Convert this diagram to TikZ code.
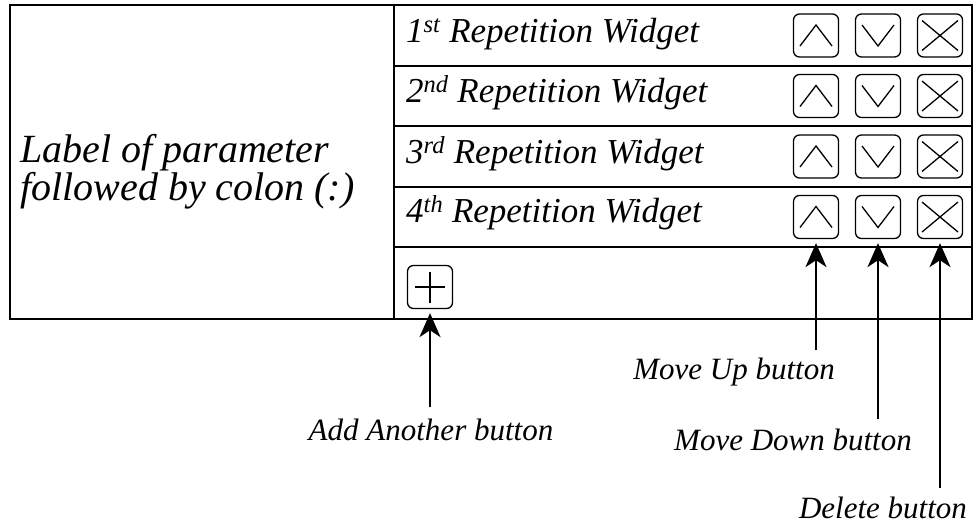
\documentclass[tikz,border=0pt]{standalone}
\usepackage{fontspec}
\setmainfont{Liberation Serif}
\usetikzlibrary{arrows.meta}
\begin{document}
\begin{tikzpicture}[x=1pt,y=-1pt,
  frame/.style={line width=2.5pt},
  btn/.style={draw, line width=1.3pt, rounded corners=6pt, minimum width=45pt, minimum height=43pt, inner sep=0pt},
  icon/.style={line width=1.3pt},
  arr/.style={line width=2.5pt, -{Stealth[length=24pt,width=21pt,inset=7pt]}, shorten >=4pt},
  rowtext/.style={anchor=base west, inner sep=0pt, font=\fontsize{35}{40}\selectfont\itshape},
  captext/.style={inner sep=0pt, font=\fontsize{31}{36}\selectfont\itshape}]
\useasboundingbox (0,0) rectangle (974,525);
% frame
\draw[frame] (10,5) rectangle (972,319);
\draw[frame] (394,5) -- (394,319);
\foreach \yl in {66,126,187,247} \draw[frame] (394,\yl) -- (972,\yl);
% parameter label
\node[anchor=west, align=left, inner sep=0pt, font=\fontsize{40}{35}\selectfont\itshape] (lbl) at (20,171.5) {Label of parameter\\followed by colon (:)};
% rows
\foreach \i/\n/\s/\yb/\yc in {1/1/st/42/35.5, 2/2/nd/102/96, 3/3/rd/163/156.5, 4/4/th/222/217} {
  \node[rowtext] (row\i) at (406,\yb) {\n\textsuperscript{\s} Repetition Widget};
  \node[btn] (up\i) at (816,\yc) {};
  \node[btn] (dn\i) at (878,\yc) {};
  \node[btn] (del\i) at (940,\yc) {};
  \draw[icon] (up\i.center) ++(-16,10.5) -- ++(16,-21) -- ++(16,21);
  \draw[icon] (dn\i.center) ++(-16,-10.5) -- ++(16,21) -- ++(16,-21);
  \draw[icon] (del\i.center) ++(-18,-15) -- ++(36,30) ++(0,-30) -- ++(-36,30);
}
% add button
\node[btn] (add) at (430,287) {};
\draw[icon] (add.center) ++(-15,0) -- ++(30,0) ++(-15,-15.5) -- ++(0,31);
% captions
\node[captext] (capadd) at (431,430) {Add Another button};
\node[captext] (capup) at (734,372) {Move Up button};
\node[captext] (capdn) at (793,440) {Move Down button};
\node[captext] (capdel) at (883,508) {Delete button};
% arrow starts
\coordinate (sAdd) at (428,407);
\coordinate (sUp) at (815,350);
\coordinate (sDn) at (881,419);
\coordinate (sDel) at (939,488);
\draw[arr] (add.south |- sAdd) -- (add.south);
\draw[arr] (up4.south |- sUp) -- (up4.south);
\draw[arr] (dn4.south |- sDn) -- (dn4.south);
\draw[arr] (del4.south |- sDel) -- (del4.south);
\end{tikzpicture}
\end{document}
